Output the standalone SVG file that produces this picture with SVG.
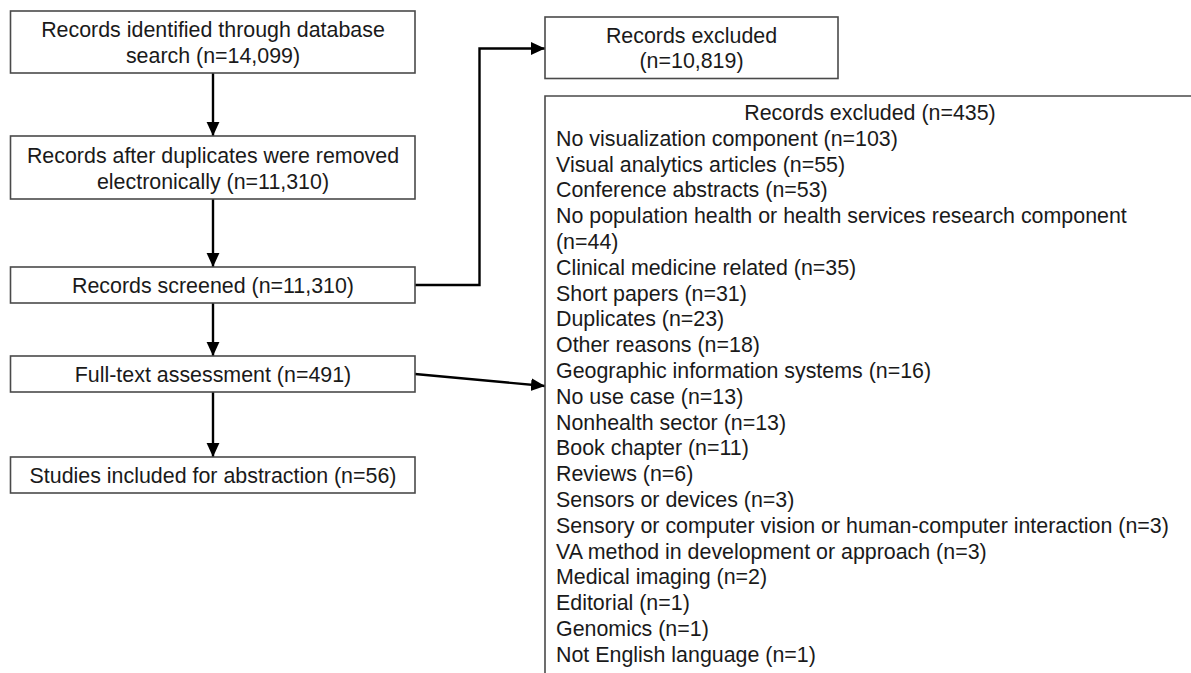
<svg xmlns="http://www.w3.org/2000/svg" width="1191" height="673" viewBox="0 0 1191 673">
<defs>
<marker id="ah" markerUnits="userSpaceOnUse" markerWidth="14" markerHeight="14" viewBox="0 0 12 12" refX="12" refY="6" orient="auto">
<path d="M0,0.5 L12,6 L0,11.5 Z" fill="#000"/>
</marker>
<style>
.box{fill:#fff;stroke:#4a4a4a;stroke-width:1.6}
.t{font-family:"Liberation Sans",Arial,sans-serif;font-size:21.4px;fill:#1a1a1a}
.c{text-anchor:middle}
.con{fill:none;stroke:#000;stroke-width:2.4;marker-end:url(#ah)}
</style>
</defs>
<rect width="1191" height="673" fill="#fff"/>
<g id="connectors">
<path class="con" d="M213,73 V136"/>
<path class="con" d="M213,199 V267"/>
<path class="con" d="M213,303 V356"/>
<path class="con" d="M213,392 V457"/>
<path class="con" d="M415,285 H479.5 V48.5 H545"/>
<path class="con" d="M415,374 L545,386"/>
</g>
<g id="n1">
<rect class="box" x="10.5" y="11" width="404.5" height="62"/>
<text class="t c" x="213" y="37">Records identified through database</text>
<text class="t c" x="213" y="63">search (n=14,099)</text>
</g>
<g id="n2">
<rect class="box" x="10.5" y="136" width="404.5" height="63"/>
<text class="t c" x="213" y="163">Records after duplicates were removed</text>
<text class="t c" x="213" y="189">electronically (n=11,310)</text>
</g>
<g id="n3">
<rect class="box" x="10.5" y="267" width="404.5" height="36"/>
<text class="t c" x="213" y="293">Records screened (n=11,310)</text>
</g>
<g id="n4">
<rect class="box" x="10.5" y="356" width="404.5" height="36"/>
<text class="t c" x="213" y="382">Full-text assessment (n=491)</text>
</g>
<g id="n5">
<rect class="box" x="10.5" y="457" width="404.5" height="36"/>
<text class="t c" x="213" y="483">Studies included for abstraction (n=56)</text>
</g>
<g id="n6">
<rect class="box" x="545" y="17" width="293" height="61.5"/>
<text class="t c" x="691.5" y="43">Records excluded</text>
<text class="t c" x="691.5" y="68">(n=10,819)</text>
</g>
<g id="n7">
<path d="M545,680 V96 H1195" fill="none" stroke="#4a4a4a" stroke-width="1.6"/>
<text class="t c" x="870" y="120">Records excluded (n=435)</text>
<text class="t" x="556" y="145.8">No visualization component (n=103)</text>
<text class="t" x="556" y="171.6">Visual analytics articles (n=55)</text>
<text class="t" x="556" y="197.4">Conference abstracts (n=53)</text>
<text class="t" x="556" y="223.2">No population health or health services research component</text>
<text class="t" x="556" y="249">(n=44)</text>
<text class="t" x="556" y="274.8">Clinical medicine related (n=35)</text>
<text class="t" x="556" y="300.6">Short papers (n=31)</text>
<text class="t" x="556" y="326.4">Duplicates (n=23)</text>
<text class="t" x="556" y="352.2">Other reasons (n=18)</text>
<text class="t" x="556" y="378">Geographic information systems (n=16)</text>
<text class="t" x="556" y="403.8">No use case (n=13)</text>
<text class="t" x="556" y="429.6">Nonhealth sector (n=13)</text>
<text class="t" x="556" y="455.4">Book chapter (n=11)</text>
<text class="t" x="556" y="481.2">Reviews (n=6)</text>
<text class="t" x="556" y="507">Sensors or devices (n=3)</text>
<text class="t" x="556" y="532.8">Sensory or computer vision or human-computer interaction (n=3)</text>
<text class="t" x="556" y="558.6">VA method in development or approach (n=3)</text>
<text class="t" x="556" y="584.4">Medical imaging (n=2)</text>
<text class="t" x="556" y="610.2">Editorial (n=1)</text>
<text class="t" x="556" y="636">Genomics (n=1)</text>
<text class="t" x="556" y="661.8">Not English language (n=1)</text>
</g>
</svg>
